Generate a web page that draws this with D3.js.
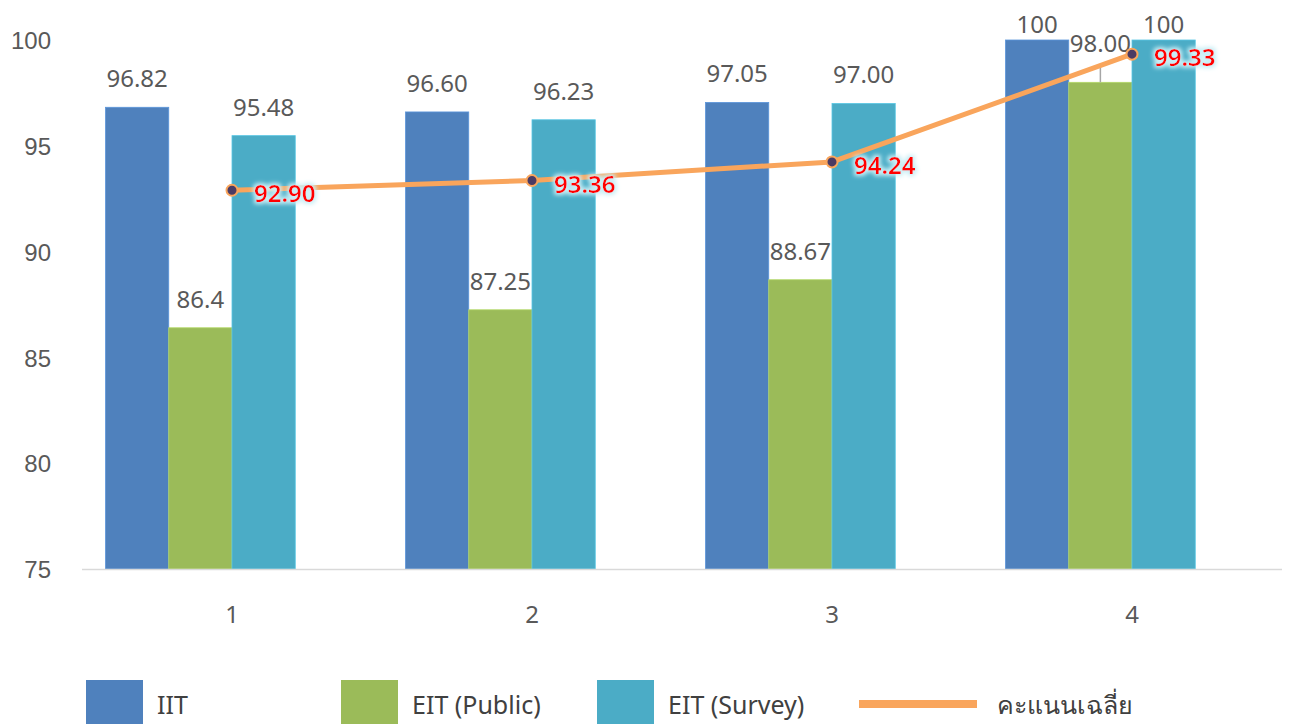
<!DOCTYPE html>
<html>
<head>
<meta charset="utf-8">
<script src="https://cdn.jsdelivr.net/npm/d3@7"></script>
<style>
  body { margin: 0; background: #fff; }
  svg { font-family: "Noto Sans", "Open Sans", sans-serif; }
</style>
</head>
<body>
<script>
//chart data
var categories = ["1", "2", "3", "4"];
var seriesNames = ["IIT", "EIT (Public)", "EIT (Survey)"];
var iit = [96.82, 96.60, 97.05, 100];
var eitPublic = [86.4, 87.25, 88.67, 98.00];
var eitSurvey = [95.48, 96.23, 97.00, 100];
var iitLabels = ["96.82", "96.60", "97.05", "100"];
var publicLabels = ["86.4", "87.25", "88.67", "98.00"];
var surveyLabels = ["95.48", "96.23", "97.00", "100"];
var average = [92.90, 93.36, 94.24, 99.33];
var averageLabels = ["92.90", "93.36", "94.24", "99.33"];
var averageName = "คะแนนเฉลี่ย";
var yTicks = [75, 80, 85, 90, 95, 100];

window.onload = drawChart();

function drawChart(){
  var width = 1289, height = 724;
  var colors = ["#4F81BD", "#9BBB59", "#4BACC6"];
  var lineColor = "#F9A55C";
  var textColor = "#595959";

  var svg = d3.select("body").append("svg")
    .attr("width", width)
    .attr("height", height);

  //glow for the red labels
  var filter = svg.append("defs").append("filter")
    .attr("id", "glow")
    .attr("x", "-20%").attr("y", "-40%")
    .attr("width", "140%").attr("height", "180%");
  filter.append("feMorphology").attr("in", "SourceAlpha").attr("operator", "dilate").attr("radius", 2).attr("result", "d");
  filter.append("feGaussianBlur").attr("in", "d").attr("stdDeviation", 2).attr("result", "b");
  filter.append("feFlood").attr("flood-color", "#c9eef5").attr("result", "c");
  filter.append("feComposite").attr("in", "c").attr("in2", "b").attr("operator", "in").attr("result", "g");
  var merge = filter.append("feMerge");
  merge.append("feMergeNode").attr("in", "g");
  merge.append("feMergeNode").attr("in", "SourceGraphic");

  var x = d3.scaleBand()
    .domain(categories)
    .range([82, 1282]);

  //four slots per group: the average series keeps an empty bar slot
  var groupWidth = 253;
  var inner = d3.scaleBand()
    .domain(seriesNames.concat([averageName]))
    .range([0, groupWidth])
    .padding(0);

  var y = d3.scaleLinear()
    .domain([75, 100])
    .range([569, 40]);

  //y axis labels
  var yAxis = svg.append("g")
    .attr("transform", "translate(51,0)")
    .call(d3.axisLeft(y).tickValues(yTicks).tickSize(0).tickPadding(0));
  yAxis.select(".domain").remove();
  yAxis.selectAll("text")
    .attr("font-size", 24)
    .attr("fill", textColor)
    .attr("dy", "0.36em")
    .style("font-family", "inherit");

  //bars
  var series = [iit, eitPublic, eitSurvey];
  var labelSets = [iitLabels, publicLabels, surveyLabels];
  var groupOffset = (x.bandwidth() - groupWidth) / 2;

  series.forEach(function(vals, s){
    svg.append("g").selectAll("rect")
      .data(vals)
      .enter()
      .append("rect")
      .attr("x", function(d, i){ return x(categories[i]) + groupOffset + inner(seriesNames[s]); })
      .attr("y", function(d){ return y(d); })
      .attr("width", inner.bandwidth())
      .attr("height", function(d){ return y(75) - y(d); })
      .attr("fill", colors[s])
      .attr("stroke", d3.color(colors[s]).brighter(0.4))
      .attr("stroke-width", 0.8);
  });

  //x axis line
  svg.append("line")
    .attr("x1", 82).attr("x2", 1282)
    .attr("y1", y(75) + 0.5).attr("y2", y(75) + 0.5)
    .attr("stroke", "#d9d9d9")
    .attr("stroke-width", 1.5);

  //x labels
  svg.append("g").selectAll("text")
    .data(categories)
    .enter()
    .append("text")
    .attr("x", function(d){ return x(d) + x.bandwidth() / 2; })
    .attr("y", 623)
    .attr("text-anchor", "middle")
    .attr("font-size", 24)
    .attr("fill", textColor)
    .text(function(d){ return d; });

  //bar value labels
  series.forEach(function(vals, s){
    vals.forEach(function(v, i){
      var cx = x(categories[i]) + groupOffset + inner(seriesNames[s]) + inner.bandwidth() / 2;
      var ly = Math.max(y(v) - 20, 33);
      if (s == 1 && i == 3) {
        //label pushed up with a leader line
        ly = 52;
        svg.append("line")
          .attr("x1", cx).attr("x2", cx)
          .attr("y1", 66).attr("y2", y(v))
          .attr("stroke", "#a6a6a6").attr("stroke-width", 1.5);
      }
      svg.append("text")
        .attr("x", cx)
        .attr("y", ly)
        .attr("text-anchor", "middle")
        .attr("font-size", 24)
        .attr("fill", textColor)
        .text(labelSets[s][i]);
    });
  });

  //average line
  var line = d3.line()
    .x(function(d, i){ return x(categories[i]) + x.bandwidth() / 2; })
    .y(function(d){ return y(d); });

  svg.append("path")
    .datum(average)
    .attr("d", line)
    .attr("fill", "none")
    .attr("stroke", lineColor)
    .attr("stroke-width", 5)
    .attr("stroke-linejoin", "round");

  svg.append("g").selectAll("circle")
    .data(average)
    .enter()
    .append("circle")
    .attr("cx", function(d, i){ return x(categories[i]) + x.bandwidth() / 2; })
    .attr("cy", function(d){ return y(d); })
    .attr("r", 5.5)
    .attr("fill", "#4B3B63")
    .attr("stroke", lineColor)
    .attr("stroke-width", 2);

  svg.append("g").selectAll("text")
    .data(average)
    .enter()
    .append("text")
    .attr("x", function(d, i){ return x(categories[i]) + x.bandwidth() / 2 + 22; })
    .attr("y", function(d){ return y(d) + 12; })
    .attr("font-size", 24)
    .attr("font-weight", 600)
    .attr("fill", "#ff0000")
    .attr("filter", "url(#glow)")
    .text(function(d, i){ return averageLabels[i]; });

  //legend
  var legendX = [86, 341, 597];
  var legend = svg.append("g");
  seriesNames.forEach(function(name, s){
    legend.append("rect")
      .attr("x", legendX[s]).attr("y", 680)
      .attr("width", 57).attr("height", 57)
      .attr("fill", colors[s]);
    legend.append("text")
      .attr("x", legendX[s] + 71).attr("y", 714)
      .attr("font-size", 25)
      .attr("fill", "#404040")
      .text(name);
  });
  legend.append("line")
    .attr("x1", 859).attr("x2", 977)
    .attr("y1", 704).attr("y2", 704)
    .attr("stroke", lineColor)
    .attr("stroke-width", 8);
  legend.append("text")
    .attr("x", 997).attr("y", 714)
    .attr("font-size", 25)
    .attr("fill", "#404040")
    .text(averageName);
}
</script>
</body>
</html>
